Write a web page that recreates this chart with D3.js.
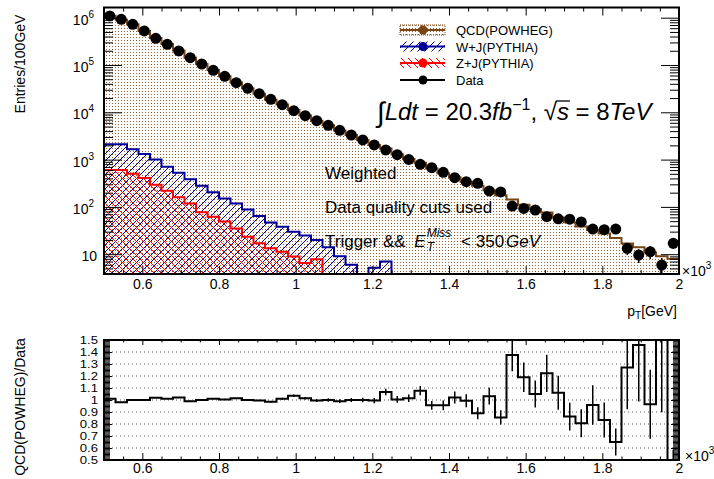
<!DOCTYPE html>
<html>
<head>
<meta charset="utf-8">
<script src="https://cdn.jsdelivr.net/npm/d3@7"></script>
<style>
  body { margin: 0; background: #fff; }
  svg text { font-family: "Liberation Sans", Arial, Helvetica, sans-serif; white-space: pre; fill: #000; }
</style>
</head>
<body>
<svg id="chart" width="714" height="479"></svg>
<script>
// ---- binning (pT, TeV units on the axis, 30 GeV bins) ----
const pTEdges = [0.50, 0.53, 0.56, 0.59, 0.62, 0.65, 0.68, 0.71, 0.74, 0.77,
                 0.80, 0.83, 0.86, 0.89, 0.92, 0.95, 0.98, 1.01, 1.04, 1.07,
                 1.10, 1.13, 1.16, 1.19, 1.22, 1.25, 1.28, 1.31, 1.34, 1.37,
                 1.40, 1.43, 1.46, 1.49, 1.52, 1.55, 1.58, 1.61, 1.64, 1.67,
                 1.70, 1.73, 1.76, 1.79, 1.82, 1.85, 1.88, 1.91, 1.94, 1.97, 2.00];

// ---- observed events per bin ----
const dataCounts = [1.09e6, 9.25e5, 7.25e5, 5.24e5, 3.67e5, 2.74e5, 1.98e5, 1.43e5, 1.05e5, 7.72e4,
                    5.77e4, 4.22e4, 3.22e4, 2.47e4, 1.88e4, 1.45e4, 1.08e4, 8480, 6640, 5310,
                    4160, 3310, 2600, 2040, 1600, 1270, 1010, 796, 675, 539,
                    415, 341, 316, 217, 207, 104, 93, 86, 62, 56,
                    55, 48, 34, 33, 34, 13.3, 9.6, 11.3, 5.9, 17];

// ---- simulated samples ----
const qcdPowheg = [1.101e6, 9.07e5, 7.25e5, 5.24e5, 3.74e5, 2.77e5, 2.02e5, 1.416e5, 1.05e5, 7.80e4,
                   5.80e4, 4.28e4, 3.22e4, 2.458e4, 1.852e4, 1.465e4, 1.118e4, 8607, 6607, 5310,
                   4118, 3310, 2600, 2030, 1707, 1276, 1025, 858, 645, 515,
                   424, 339, 281, 224, 177, 143, 110.6, 90.3, 75.8, 59.4,
                   47.4, 38.7, 32.6, 27.5, 22.1, 16.9, 14.0, 10.9, 9.0, 8.0];
const wJets = [2100, 2100, 1650, 1310, 1010, 710, 530, 385, 280, 205,
               150, 118, 88, 64, 47, 38, 30, 25, 20, 14,
               9, 6, 0, 5.2, 7, 0, 0, 0, 0, 0,
               0, 0, 0, 0, 0, 0, 0, 0, 0, 0,
               0, 0, 0, 0, 0, 0, 0, 0, 0, 0];
const zJets = [603, 603, 500, 410, 295, 220, 160, 118, 77, 62,
               49, 35, 23.4, 17, 13.3, 11.3, 8.9, 6.5, 7.8, 0,
               0, 0, 0, 0, 0, 0, 0, 0, 0, 0,
               0, 0, 0, 0, 0, 0, 0, 0, 0, 0,
               0, 0, 0, 0, 0, 0, 0, 0, 0, 0];

// ---- axes ----
const xRange = [0.5, 2.0];
const xMajorTicks = [0.6, 0.8, 1.0, 1.2, 1.4, 1.6, 1.8, 2.0];
const xMajorLabels = ["0.6", "0.8", "1", "1.2", "1.4", "1.6", "1.8", "2"];
const yTopRange = [3.814, 1.643e6];
const yTopMajor = [10, 1e2, 1e3, 1e4, 1e5, 1e6];
const yTopExponents = ["", "2", "3", "4", "5", "6"];
const ratioRange = [0.5, 1.5];
const ratioTicks = [0.5, 0.6, 0.7, 0.8, 0.9, 1.0, 1.1, 1.2, 1.3, 1.4, 1.5];
const ratioLabels = ["0.5", "0.6", "0.7", "0.8", "0.9", "1", "1.1", "1.2", "1.3", "1.4", "1.5"];
const ratioGrid = [0.6, 0.7, 0.8, 0.9, 1.0, 1.1, 1.2, 1.3, 1.4];

// ---- legend / notes ----
const legendNames = ["QCD(POWHEG)", "W+J(PYTHIA)", "Z+J(PYTHIA)", "Data"];
const notes = ["Weighted", "Data quality cuts used"];

// ---- styles ----
const C = { qcd: "#7a4515", w: "#000099", z: "#ff0000", data: "#000000" };

const svg = d3.select("#chart");
const pTop = { l: 104, r: 679, t: 7.5, b: 274 };
const pBot = { l: 104, r: 679, t: 340, b: 460 };

const x = d3.scaleLinear().domain(xRange).range([pTop.l, pTop.r]);
const yTop = d3.scaleLog().domain(yTopRange).range([pTop.b, pTop.t]).clamp(true);
const yRat = d3.scaleLinear().domain(ratioRange).range([pBot.b, pBot.t]);

// ---- defs: clips and fill patterns ----
const defs = svg.append("defs");
defs.append("clipPath").attr("id", "clipTop").append("rect")
  .attr("x", pTop.l).attr("y", pTop.t).attr("width", pTop.r - pTop.l).attr("height", pTop.b - pTop.t);
defs.append("clipPath").attr("id", "clipBot").append("rect")
  .attr("x", pBot.l).attr("y", pBot.t).attr("width", pBot.r - pBot.l).attr("height", pBot.b - pBot.t);

const pDots = defs.append("pattern").attr("id", "dots").attr("patternUnits", "userSpaceOnUse")
  .attr("width", 3).attr("height", 3);
pDots.append("rect").attr("width", 3).attr("height", 3).attr("fill", "#ffffff");
pDots.append("rect").attr("x", 1).attr("y", 1).attr("width", 1).attr("height", 1).attr("fill", "#9a6030");

const pW = defs.append("pattern").attr("id", "hatchW").attr("patternUnits", "userSpaceOnUse")
  .attr("width", 7).attr("height", 7);
pW.append("path").attr("d", "M-1,1 l2,-2 M0,7 l7,-7 M6,8 l2,-2")
  .attr("stroke", C.w).attr("stroke-width", 1).attr("fill", "none");

const pZ = defs.append("pattern").attr("id", "hatchZ").attr("patternUnits", "userSpaceOnUse")
  .attr("width", 7).attr("height", 7);
pZ.append("path").attr("d", "M-1,6 l2,2 M0,0 l7,7 M6,-1 l2,2")
  .attr("stroke", C.z).attr("stroke-width", 1).attr("fill", "none");

// ---- helpers ----
const stepPoints = vals => vals.map((v, i) => [pTEdges[i], v]).concat([[pTEdges[vals.length], vals[vals.length - 1]]]);
const floorTop = v => Math.max(v, yTopRange[0]);
const lineTop = d3.line().x(d => x(d[0])).y(d => yTop(floorTop(d[1]))).curve(d3.curveStepAfter);
const areaTop = d3.area().x(d => x(d[0])).y0(pTop.b).y1(d => yTop(floorTop(d[1]))).curve(d3.curveStepAfter);
const centers = dataCounts.map((_, i) => (pTEdges[i] + pTEdges[i + 1]) / 2);

function richText(g, x0, y0, runs) {
  let cx = x0;
  const place = r => {
    const t = g.append("text").attr("x", cx).attr("y", y0 + (r.dy || 0))
      .attr("font-size", r.size).attr("font-style", r.it ? "italic" : "normal").text(r.t);
    return t.node().getComputedTextLength();
  };
  runs.forEach(r => {
    if (r.stack) {
      let w = 0;
      r.stack.forEach(s => { w = Math.max(w, place(s)); });
      r.x0 = cx; cx += w + (r.gap || 0); r.x1 = cx;
    } else {
      r.x0 = cx; cx += place(r) + (r.gap || 0); r.x1 = cx;
    }
  });
  return cx - x0;
}

// ================= top panel =================
const gTop = svg.append("g");
const gPlot = gTop.append("g").attr("clip-path", "url(#clipTop)");

gPlot.append("path").datum(stepPoints(qcdPowheg)).attr("d", areaTop).attr("fill", "url(#dots)");
gPlot.append("path").datum(stepPoints(qcdPowheg)).attr("d", lineTop)
  .attr("fill", "none").attr("stroke", C.qcd).attr("stroke-width", 2);

gPlot.append("path").datum(stepPoints(wJets)).attr("d", areaTop).attr("fill", "url(#hatchW)");
gPlot.append("path").datum(stepPoints(wJets)).attr("d", lineTop)
  .attr("fill", "none").attr("stroke", C.w).attr("stroke-width", 2);

gPlot.append("path").datum(stepPoints(zJets)).attr("d", areaTop).attr("fill", "url(#hatchZ)");
gPlot.append("path").datum(stepPoints(zJets)).attr("d", lineTop)
  .attr("fill", "none").attr("stroke", C.z).attr("stroke-width", 2);

// data: error bars (Poisson) and markers
gPlot.selectAll(".err").data(dataCounts).join("line")
  .attr("x1", (d, i) => x(centers[i])).attr("x2", (d, i) => x(centers[i]))
  .attr("y1", d => yTop(floorTop(d - Math.sqrt(d)))).attr("y2", d => yTop(d + Math.sqrt(d)))
  .attr("stroke", C.data).attr("stroke-width", 1.5);
gPlot.selectAll(".pt").data(dataCounts).join("circle")
  .attr("cx", (d, i) => x(centers[i])).attr("cy", d => yTop(d)).attr("r", 5.5).attr("fill", C.data);

// axes of the top panel
function styleAxis(g) {
  g.select(".domain").remove();
  g.selectAll(".tick line").attr("stroke", "#000").attr("stroke-width", 1);
  g.attr("font-size", 14);
}
const xMinor = d3.range(0.5, 2.0001, 0.05).filter(v => !xMajorTicks.some(m => Math.abs(m - v) < 1e-6));

gTop.append("g").attr("transform", `translate(0,${pTop.b})`)
  .call(d3.axisBottom(x).tickValues(xMajorTicks).tickSizeInner(-8).tickSizeOuter(0).tickPadding(5)
    .tickFormat((d, i) => xMajorLabels[i])).call(styleAxis);
gTop.append("g").attr("transform", `translate(0,${pTop.b})`)
  .call(d3.axisBottom(x).tickValues(xMinor).tickSizeInner(-4).tickSizeOuter(0).tickFormat("")).call(styleAxis);
gTop.append("g").attr("transform", `translate(0,${pTop.t})`)
  .call(d3.axisTop(x).tickValues(xMajorTicks).tickSizeInner(-8).tickSizeOuter(0).tickFormat("")).call(styleAxis);
gTop.append("g").attr("transform", `translate(0,${pTop.t})`)
  .call(d3.axisTop(x).tickValues(xMinor).tickSizeInner(-4).tickSizeOuter(0).tickFormat("")).call(styleAxis);

const yMinor = [];
for (let e = 0; e <= 6; e++) for (let m = 2; m <= 9; m++) {
  const v = m * Math.pow(10, e);
  if (v > yTopRange[0] && v < yTopRange[1]) yMinor.push(v);
}
gTop.append("g").attr("transform", `translate(${pTop.l},0)`)
  .call(d3.axisLeft(yTop).tickValues(yTopMajor).tickSizeInner(-18).tickSizeOuter(0).tickFormat("")).call(styleAxis);
gTop.append("g").attr("transform", `translate(${pTop.l},0)`)
  .call(d3.axisLeft(yTop).tickValues(yMinor).tickSizeInner(-9).tickSizeOuter(0).tickFormat("")).call(styleAxis);
gTop.append("g").attr("transform", `translate(${pTop.r},0)`)
  .call(d3.axisRight(yTop).tickValues(yTopMajor).tickSizeInner(-18).tickSizeOuter(0).tickFormat("")).call(styleAxis);
gTop.append("g").attr("transform", `translate(${pTop.r},0)`)
  .call(d3.axisRight(yTop).tickValues(yMinor).tickSizeInner(-9).tickSizeOuter(0).tickFormat("")).call(styleAxis);

// log-axis labels 10^k
yTopMajor.forEach((v, i) => {
  const t = gTop.append("text").attr("text-anchor", "end").attr("font-size", 14)
    .attr("x", yTopExponents[i] ? 94 : 97).attr("y", yTop(v) + 7);
  t.append("tspan").text("10");
  if (yTopExponents[i]) t.append("tspan").attr("font-size", 10).attr("dy", -7).text(yTopExponents[i]);
});

gTop.append("rect").attr("x", pTop.l).attr("y", pTop.t).attr("width", pTop.r - pTop.l).attr("height", pTop.b - pTop.t)
  .attr("fill", "none").attr("stroke", "#000").attr("stroke-width", 2);

// y title
gTop.append("text").attr("transform", "translate(25,64) rotate(-90)").attr("text-anchor", "middle")
  .attr("font-size", 14).text("Entries/100GeV");

// x10^3 and axis title
{
  const t = gTop.append("text").attr("x", 682).attr("y", 276).attr("font-size", 14);
  t.append("tspan").text("\u00d710");
  t.append("tspan").attr("font-size", 10).attr("dy", -7).text("3");
  const g = gTop.append("g");
  const w = richText(g, 0, 316, [
    { t: "p", size: 14 }, { t: "T", size: 10, dy: 3 }, { t: "[GeV]", size: 14 }
  ]);
  g.attr("transform", `translate(${677 - w},0)`);
}

// ---- legend ----
const legRows = [30, 46.5, 63, 80];
const legFills = ["url(#dots)", "url(#hatchW)", "url(#hatchZ)", null];
const legColors = [C.qcd, C.w, C.z, C.data];
const gLeg = gTop.append("g");
legendNames.forEach((name, i) => {
  const y = legRows[i];
  if (legFills[i]) {
    const r = gLeg.append("rect").attr("x", 400).attr("y", y - 5).attr("width", 45).attr("height", 10)
      .attr("fill", legFills[i]);
    if (i === 0) r.attr("stroke", C.qcd).attr("stroke-width", 1).attr("stroke-dasharray", "1,1");
  }
  gLeg.append("line").attr("x1", 400).attr("x2", 445).attr("y1", y).attr("y2", y)
    .attr("stroke", legColors[i]).attr("stroke-width", 2);
  gLeg.append("circle").attr("cx", 423).attr("cy", y).attr("r", 4.5).attr("fill", legColors[i]);
  gLeg.append("text").attr("x", 456).attr("y", y + 5).attr("font-size", 13).text(name);
});

// ---- luminosity / energy ----
{
  const g = gTop.append("g");
  const runs = [
    { t: "\u222b", size: 28, dy: 2 },
    { t: "Ldt", size: 24, it: true },
    { t: " = 20.3", size: 24 },
    { t: "fb", size: 24, it: true },
    { t: "\u22121", size: 16, dy: -10 },
    { t: ", ", size: 24 },
    { t: "\u221a", size: 24 },
    { t: "s", size: 24, it: true },
    { t: " = 8", size: 24 },
    { t: "TeV", size: 24, it: true }
  ];
  richText(g, 377, 120, runs);
  const s = runs[7], rt = runs[6];
  g.append("line").attr("x1", rt.x1 - 1).attr("x2", s.x1 + 1).attr("y1", 120 - 19).attr("y2", 120 - 19)
    .attr("stroke", "#000").attr("stroke-width", 1.3);
}

// ---- selection notes ----
notes.forEach((n, i) => {
  gTop.append("text").attr("x", 325).attr("y", 179 + i * 34).attr("font-size", 17).text(n);
});
richText(gTop.append("g"), 325, 247, [
  { t: "Trigger && ", size: 17, gap: 4 },
  { t: "E", size: 17, it: true, gap: 1 },
  { stack: [{ t: "T", size: 12, it: true, dy: 4 }, { t: "Miss", size: 12, it: true, dy: -10 }], gap: 5 },
  { t: " < 350", size: 17, gap: 2 },
  { t: "GeV", size: 17, it: true }
]);

// ================= ratio panel =================
const ratio = qcdPowheg.map((q, i) => q / dataCounts[i]);
const ratioErr = ratio.map((r, i) => r / Math.sqrt(dataCounts[i]));
const gBot = svg.append("g");

// dotted grid
gBot.selectAll(".grid").data(ratioGrid).join("line")
  .attr("x1", pBot.l).attr("x2", pBot.r).attr("y1", d => yRat(d)).attr("y2", d => yRat(d))
  .attr("stroke", "#555").attr("stroke-width", 1).attr("stroke-dasharray", "1,3");

const gR = gBot.append("g").attr("clip-path", "url(#clipBot)");
const lineRat = d3.line().x(d => x(d[0])).y(d => yRat(d[1])).curve(d3.curveStepAfter);
gR.append("path").datum(stepPoints(ratio)).attr("d", lineRat)
  .attr("fill", "none").attr("stroke", "#000").attr("stroke-width", 2);
gR.selectAll(".rerr").data(ratio).join("line")
  .attr("x1", (d, i) => x(centers[i])).attr("x2", (d, i) => x(centers[i]))
  .attr("y1", (d, i) => yRat(d - ratioErr[i])).attr("y2", (d, i) => yRat(d + ratioErr[i]))
  .attr("stroke", "#000").attr("stroke-width", 1.5);

const ratioMinor = d3.range(0.5, 1.5001, 0.01);
gBot.append("g").attr("transform", `translate(${pBot.l},0)`)
  .call(d3.axisLeft(yRat).tickValues(ratioTicks).tickSizeInner(-8).tickSizeOuter(0).tickFormat("")).call(styleAxis);
gBot.append("g").attr("transform", `translate(${pBot.l},0)`)
  .call(d3.axisLeft(yRat).tickValues(ratioMinor).tickSizeInner(-6).tickSizeOuter(0).tickFormat("")).call(styleAxis);
gBot.append("g").attr("transform", `translate(${pBot.r},0)`)
  .call(d3.axisRight(yRat).tickValues(ratioTicks).tickSizeInner(-8).tickSizeOuter(0).tickFormat("")).call(styleAxis);
gBot.append("g").attr("transform", `translate(${pBot.r},0)`)
  .call(d3.axisRight(yRat).tickValues(ratioMinor).tickSizeInner(-6).tickSizeOuter(0).tickFormat("")).call(styleAxis);

// compact ratio-axis labels (narrow line pitch)
gBot.selectAll(".rlab").data(ratioTicks).join("text")
  .attr("transform", d => `translate(98,${yRat(d) + 3.8}) scale(1.25,1)`)
  .attr("text-anchor", "end").attr("font-size", 10.5)
  .text((d, i) => ratioLabels[i]);

gBot.append("g").attr("transform", `translate(0,${pBot.b})`)
  .call(d3.axisBottom(x).tickValues(xMajorTicks).tickSizeInner(-7).tickSizeOuter(0).tickPadding(3)
    .tickFormat((d, i) => xMajorLabels[i])).call(styleAxis);
gBot.append("g").attr("transform", `translate(0,${pBot.b})`)
  .call(d3.axisBottom(x).tickValues(xMinor).tickSizeInner(-3.5).tickSizeOuter(0).tickFormat("")).call(styleAxis);
gBot.append("g").attr("transform", `translate(0,${pBot.t})`)
  .call(d3.axisTop(x).tickValues(xMajorTicks).tickSizeInner(-5).tickSizeOuter(0).tickFormat("")).call(styleAxis);
gBot.append("g").attr("transform", `translate(0,${pBot.t})`)
  .call(d3.axisTop(x).tickValues(xMinor).tickSizeInner(-2.5).tickSizeOuter(0).tickFormat("")).call(styleAxis);

gBot.append("rect").attr("x", pBot.l).attr("y", pBot.t).attr("width", pBot.r - pBot.l).attr("height", pBot.b - pBot.t)
  .attr("fill", "none").attr("stroke", "#000").attr("stroke-width", 2);

gBot.append("text").attr("transform", "translate(25,407) rotate(-90)").attr("text-anchor", "middle")
  .attr("font-size", 14).text("QCD(POWHEG)/Data");
{
  const t = gBot.append("text").attr("x", 685).attr("y", 461).attr("font-size", 14);
  t.append("tspan").text("\u00d710");
  t.append("tspan").attr("font-size", 10).attr("dy", -7).text("3");
}
</script>
</body>
</html>
